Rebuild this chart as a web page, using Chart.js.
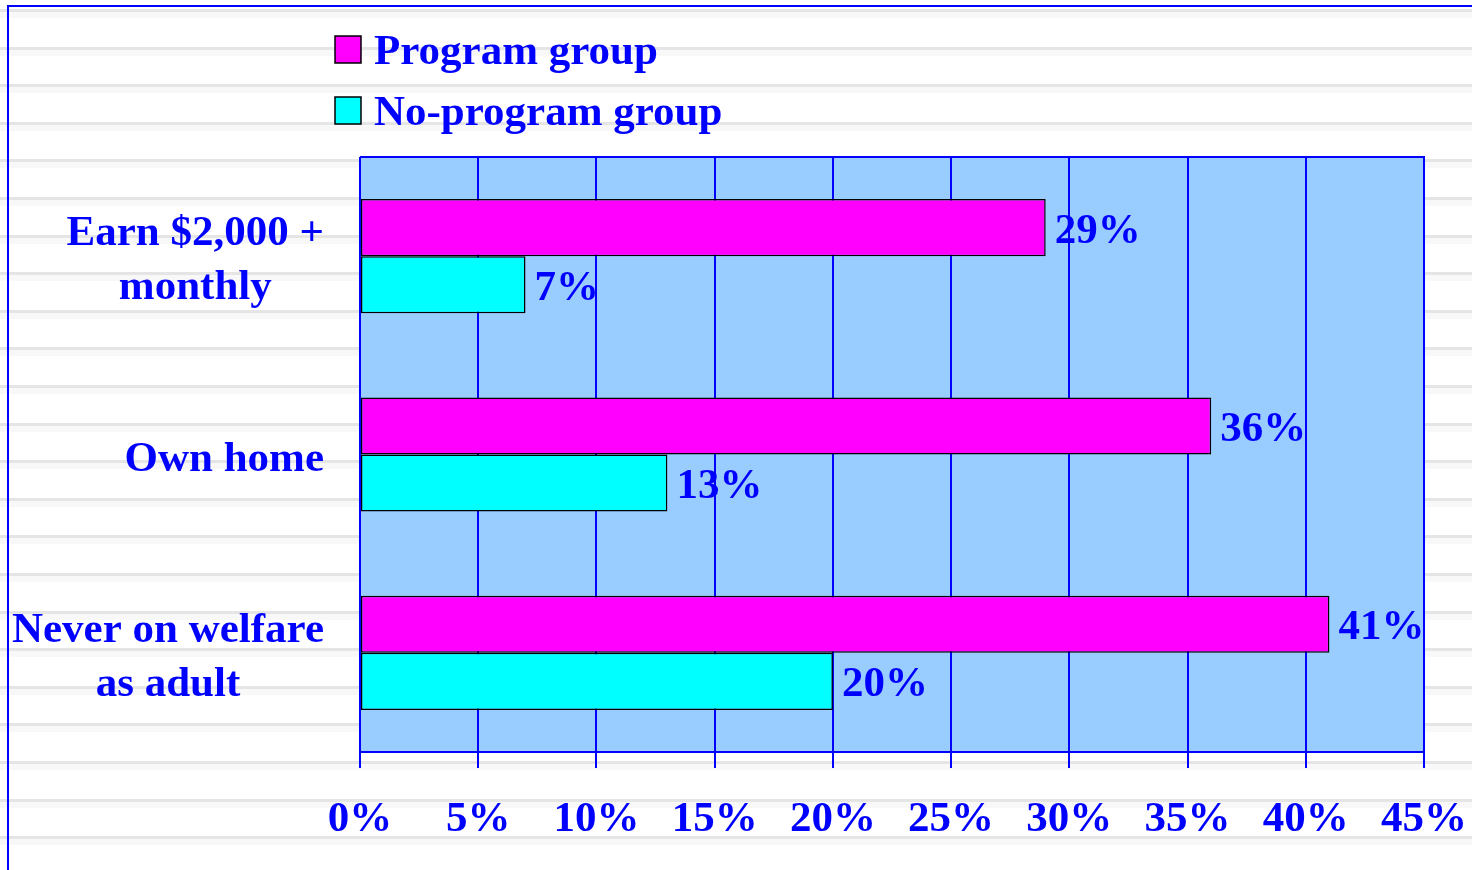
<!DOCTYPE html>
<html><head><meta charset="utf-8">
<script src="https://cdn.jsdelivr.net/npm/chart.js@4.4.0/dist/chart.umd.min.js"></script>
<style>html,body{margin:0;padding:0;background:#fff;overflow:hidden}#wrap{width:1472px;height:870px;position:relative}canvas{display:block}</style>
</head><body><div id="wrap"><canvas id="c" width="1472" height="870"></canvas></div>
<script>
const categories = [["Earn $2,000 +", "monthly"], ["Own home"], ["Never on welfare", "as adult"]];
const seriesNames = ["Program group", "No-program group"];
const programValues = [29, 36, 41];
const noProgramValues = [7, 13, 20];
const xTickValues = [0, 5, 10, 15, 20, 25, 30, 35, 40, 45];

const BLUE = '#0000ff';
const FONT = 'bold 43px "Liberation Serif", "Times New Roman", serif';
const seriesColors = ['#ff00ff', '#00ffff'];

const decor = {
  id: 'decor',
  beforeDraw(chart) {
    const ctx = chart.ctx, W = chart.width, H = chart.height, ca = chart.chartArea;
    ctx.save();
    ctx.fillStyle = '#ffffff';
    ctx.fillRect(0, 0, W, H);
    // notebook stripes
    for (let k = 0; k <= 22; k++) {
      const y = Math.round(10 + 37.6 * k);
      ctx.fillStyle = '#f8f8f8';
      ctx.fillRect(0, y + 2, W, 6);
      ctx.fillStyle = '#e5e5e5';
      ctx.fillRect(0, y - 1, W, 3);
    }
    // frame
    ctx.fillStyle = BLUE;
    ctx.fillRect(7, 5, W - 7, 2);
    ctx.fillRect(7, 5, 2, H - 5);
    // plot background
    ctx.fillStyle = '#99ccff';
    ctx.fillRect(ca.left, ca.top, ca.right - ca.left, ca.bottom - ca.top);
    // value labels
    ctx.font = FONT;
    ctx.fillStyle = BLUE;
    ctx.textAlign = 'left';
    ctx.textBaseline = 'alphabetic';
    chart.data.datasets.forEach((ds, di) => {
      const meta = chart.getDatasetMeta(di);
      meta.data.forEach((el, i) => {
        ctx.fillText(ds.data[i] + '%', el.x + 9, el.y + 15);
      });
    });
    // category labels (right-aligned block, lines centered)
    const ys = chart.scales.y;
    categories.forEach((lines, i) => {
      const cy = ys.getPixelForTick(i) + 1;
      const bw = Math.max(...lines.map(l => ctx.measureText(l).width));
      const cx = 324 - bw / 2;
      ctx.textAlign = 'center';
      lines.forEach((l, j) => {
        ctx.fillText(l, cx, cy + (j - (lines.length - 1) / 2) * 54 + 15);
      });
    });
    // legend
    ctx.textAlign = 'left';
    const legendY = [36, 97];
    const textBase = [64, 125];
    chart.data.datasets.forEach((ds, di) => {
      ctx.fillStyle = ds.backgroundColor;
      ctx.fillRect(335, legendY[di], 26, 27);
      ctx.strokeStyle = '#000';
      ctx.lineWidth = 1.5;
      ctx.strokeRect(335, legendY[di], 26, 27);
      ctx.fillStyle = BLUE;
      ctx.fillText(ds.label, 374, textBase[di]);
    });
    ctx.restore();
  },
  afterDraw(chart) {
    const ctx = chart.ctx, ca = chart.chartArea;
    ctx.save();
    ctx.strokeStyle = BLUE;
    ctx.lineWidth = 2;
    ctx.beginPath();
    ctx.moveTo(ca.left, ca.top);
    ctx.lineTo(ca.right, ca.top);
    ctx.lineTo(ca.right, ca.bottom);
    ctx.moveTo(ca.left, ca.top);
    ctx.lineTo(ca.left, ca.bottom);
    ctx.stroke();
    ctx.restore();
  }
};

new Chart(document.getElementById('c'), {
  type: 'bar',
  data: {
    labels: categories,
    datasets: [
      { label: seriesNames[0], data: programValues, backgroundColor: seriesColors[0], borderColor: '#000', borderWidth: 1.5, borderSkipped: false },
      { label: seriesNames[1], data: noProgramValues, backgroundColor: seriesColors[1], borderColor: '#000', borderWidth: 1.5, borderSkipped: false }
    ]
  },
  options: {
    indexAxis: 'y',
    responsive: false,
    devicePixelRatio: 1,
    animation: false,
    barPercentage: 1,
    categoryPercentage: 0.576,
    layout: { padding: { top: 157, right: 48, bottom: 0, left: 0 } },
    plugins: { legend: { display: false }, tooltip: { enabled: false } },
    scales: {
      x: {
        position: 'bottom',
        min: 0, max: 45,
        afterBuildTicks(scale) { scale.ticks = xTickValues.map(v => ({ value: v })); },
        ticks: {
          callback: v => v + '%',
          color: BLUE,
          font: { family: '"Liberation Serif", "Times New Roman", serif', size: 43, weight: 'bold' },
          padding: 26,
          maxRotation: 0, autoSkip: false
        },
        grid: { color: BLUE, lineWidth: 2, tickLength: 16, drawOnChartArea: true, drawTicks: true },
        border: { color: BLUE, width: 2 },
        afterFit(scale) { scale.height = 118; scale.paddingLeft = 0; scale.paddingRight = 0; }
      },
      y: {
        ticks: { display: false },
        grid: { display: false },
        border: { display: false },
        afterFit(scale) { scale.width = 360; }
      }
    }
  },
  plugins: [decor]
});
</script>
</body></html>
